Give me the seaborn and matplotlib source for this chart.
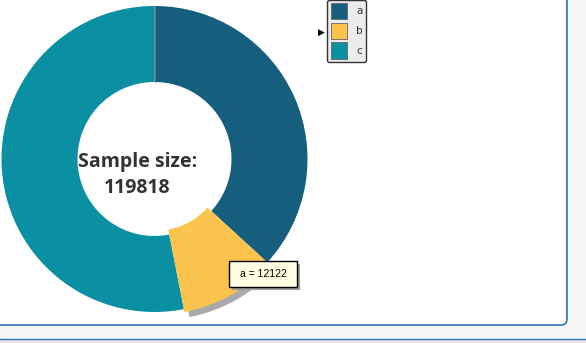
import matplotlib
matplotlib.use("Agg")
import matplotlib.pyplot as plt
import seaborn as sns
from matplotlib.patches import Wedge, FancyBboxPatch, Rectangle

sns.set_theme(style="white")
plt.rcParams['font.family'] = ['DejaVu Sans']

# ---- data ----
categories = ["a", "b", "c"]
values = [44100, 12122, 63596]
colors = ["#155e7d", "#fcc44c", "#0a8fa3"]
sample_size = 119818
center_title = "Sample size:"
tooltip_text = "a = 12122"
highlight = "b"

W, H = 586, 343
fig = plt.figure(figsize=(W / 100, H / 100), dpi=100)
fig.patch.set_facecolor("#f6f6f6")
ax = fig.add_axes([0, 0, 1, 1])

def py(y):
    return H - y

cx, cy, R = 154.5, py(159), 153
wedges, _ = ax.pie(values, colors=colors, startangle=90, counterclock=False,
                   center=(cx, cy), radius=R, wedgeprops=dict(width=R - 77, linewidth=0),
                   frame=True)
ax.set_xlim(0, W)
ax.set_ylim(0, H)
ax.set_aspect("auto")
ax.axis("off")
for w in wedges:
    w.set_zorder(3)

# bottom strip
ax.add_patch(Rectangle((0, py(343)), W, 4, facecolor="#e6e6e6", edgecolor="none", zorder=0))
ax.plot([0, W], [py(339), py(339)], color="#2a72bd", lw=1.0, zorder=1)

# white panel with blue border
panel = FancyBboxPatch((-20, py(325)), 567 + 20, 400, boxstyle="round,pad=0,rounding_size=6",
                       facecolor="white", edgecolor="#2a72bd", lw=1.2, zorder=1)
ax.add_patch(panel)

# highlighted slice: enlarged with shadow
hi = categories.index(highlight)
hw = wedges[hi]
hw.set_radius(156)
hw.set_width(156 - 72)
hw.set_zorder(5)
shadow = Wedge((cx + 5, cy - 5), 156, hw.theta1, hw.theta2, width=156 - 72,
               facecolor="#aaaaaa", edgecolor="none", zorder=4)
ax.add_patch(shadow)

# separator line at top
ax.plot([cx, cx], [cy + 77, cy + R], color="#5a7f8a", lw=0.8, zorder=4)

# center text
ax.text(cx - 17, py(175), f"{center_title}\n{sample_size}", ha="center", va="center",
        fontsize=14, fontweight="bold", color="#333333", family=["Open Sans", "DejaVu Sans"],
        linespacing=1.4, zorder=6)

# tooltip
tx0, ty0, tx1, ty1 = 229, 261, 297, 287
ax.add_patch(Rectangle((tx0 + 3, py(ty1 + 3)), tx1 - tx0, ty1 - ty0, facecolor="#9a9a9a",
                       edgecolor="none", zorder=7))
ax.add_patch(Rectangle((tx0, py(ty1)), tx1 - tx0, ty1 - ty0, facecolor="#ffffe1",
                       edgecolor="black", lw=1.0, zorder=8))
ax.text((tx0 + tx1) / 2, py((ty0 + ty1) / 2), tooltip_text, ha="center", va="center",
        fontsize=7.5, color="black", family=["Liberation Sans", "DejaVu Sans"], zorder=9)

# legend
leg = ax.legend(wedges, categories, loc="upper left",
                bbox_to_anchor=(327 / W, 1 + 0.5 / H), bbox_transform=fig.transFigure,
                fontsize=7.5, handlelength=1.55, handleheight=2.0, labelspacing=0.34,
                handletextpad=0.9, borderpad=0.35, borderaxespad=0, frameon=True,
                fancybox=True, framealpha=1)
leg.get_frame().set_facecolor("#ececec")
leg.get_frame().set_edgecolor("#333333")
leg.get_frame().set_linewidth(1.0)
leg.set_zorder(10)
for t in leg.get_texts():
    t.set_color("#333333")
for h in leg.legend_handles:
    h.set_edgecolor("#666666")
    h.set_linewidth(0.6)

ax.text(321, py(32), "\u25B6", ha="center", va="center", fontsize=6.5, color="black", zorder=11)

fig.savefig("out.png", dpi=100, facecolor=fig.get_facecolor())
